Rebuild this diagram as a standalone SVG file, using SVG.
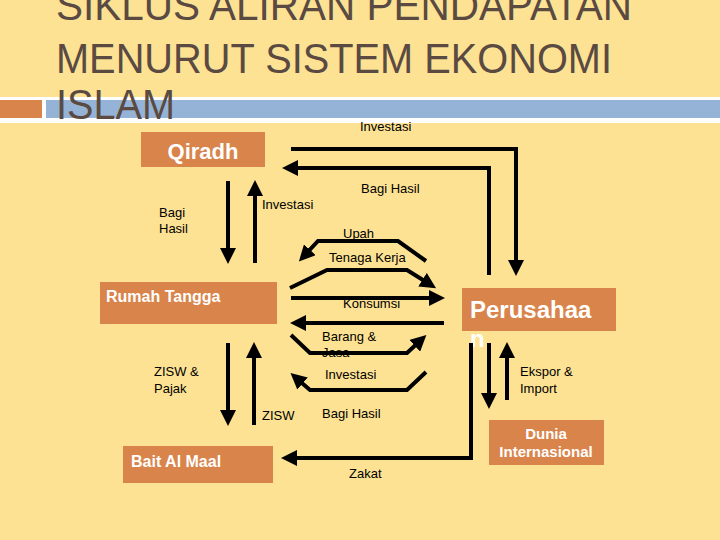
<svg xmlns="http://www.w3.org/2000/svg" width="720" height="540" viewBox="0 0 720 540">
<defs>
<marker id="ah" markerWidth="4" markerHeight="4" refX="2.5" refY="2" orient="auto" markerUnits="strokeWidth"><path d="M0,0 L4,2 L0,4 Z" fill="#000"/></marker>
<style>
.t{font-family:"Liberation Sans",Arial,sans-serif;font-size:42px;fill:#5a4a42}
.l{font-family:"Liberation Sans",Arial,sans-serif;font-size:13px;fill:#000}
.b{fill:#d9844b}
.bt{font-family:"Liberation Sans",Arial,sans-serif;font-weight:bold;fill:#fff}
.c{fill:none;stroke:#000;stroke-width:4;marker-end:url(#ah)}
</style>
</defs>
<rect width="720" height="540" fill="#fde294"/>
<rect x="0" y="97" width="720" height="26" fill="#fff"/>
<rect x="0" y="100" width="42" height="18" fill="#d9844b"/>
<rect x="46" y="100" width="674" height="18" fill="#95b3d7"/>
<text class="t" x="56" y="20" textLength="576" lengthAdjust="spacingAndGlyphs">SIKLUS ALIRAN PENDAPATAN</text>
<text class="t" x="56" y="73" textLength="556" lengthAdjust="spacingAndGlyphs">MENURUT SISTEM EKONOMI</text>
<text class="t" x="56" y="119" textLength="119" lengthAdjust="spacingAndGlyphs">ISLAM</text>
<g id="qiradh"><rect class="b" x="141" y="132" width="124" height="35"/><text class="bt" x="203" y="159" font-size="22" text-anchor="middle">Qiradh</text></g>
<g id="rumah"><rect class="b" x="100" y="282" width="177" height="42"/><text class="bt" x="106" y="302" font-size="16">Rumah Tangga</text></g>
<g id="perusahaan"><rect class="b" x="462" y="288" width="154" height="43"/><text class="bt" x="470" y="318" font-size="24">Perusahaa</text><text class="bt" x="470" y="347" font-size="24">n</text></g>
<g id="dunia"><rect class="b" x="489" y="420" width="115" height="45"/><text class="bt" x="546" y="439" font-size="15" text-anchor="middle">Dunia</text><text class="bt" x="546" y="457" font-size="15" text-anchor="middle">Internasional</text></g>
<g id="baitalmaal"><rect class="b" x="123" y="446" width="150" height="37"/><text class="bt" x="131" y="467" font-size="16">Bait Al Maal</text></g>
<g id="connectors">
<path class="c" d="M291,149 H516 V270"/>
<path class="c" d="M489,275 V168 H288"/>
<path class="c" d="M228,181 V258"/>
<path class="c" d="M255,263 V186"/>
<path class="c" d="M426,261 L398,241 H318 L303,257"/>
<path class="c" d="M290,288 L327,270 H407 L431,285"/>
<path class="c" d="M291,298 H439"/>
<path class="c" d="M444,323 H296"/>
<path class="c" d="M291,335 L310,353 H407 L422,339"/>
<path class="c" d="M426,372 L407,390 H310 L295,377"/>
<path class="c" d="M228,343 V420"/>
<path class="c" d="M254,425 V348"/>
<path class="c" d="M471,343 V458 H287"/>
<path class="c" d="M489,343 V403"/>
<path class="c" d="M507,400 V348"/>
</g>
<g class="labels">
<text class="l" x="360" y="131">Investasi</text>
<text class="l" x="361" y="193">Bagi Hasil</text>
<text class="l" x="159" y="217">Bagi</text>
<text class="l" x="159" y="233">Hasil</text>
<text class="l" x="262" y="209">Investasi</text>
<text class="l" x="343" y="238">Upah</text>
<text class="l" x="329" y="262">Tenaga Kerja</text>
<text class="l" x="343" y="308">Konsumsi</text>
<text class="l" x="322" y="341">Barang &amp;</text>
<text class="l" x="322" y="357">Jasa</text>
<text class="l" x="325" y="379">Investasi</text>
<text class="l" x="154" y="376">ZISW &amp;</text>
<text class="l" x="154" y="393">Pajak</text>
<text class="l" x="262" y="420">ZISW</text>
<text class="l" x="322" y="418">Bagi Hasil</text>
<text class="l" x="520" y="376">Ekspor &amp;</text>
<text class="l" x="520" y="393">Import</text>
<text class="l" x="349" y="478">Zakat</text>
</g>
</svg>
